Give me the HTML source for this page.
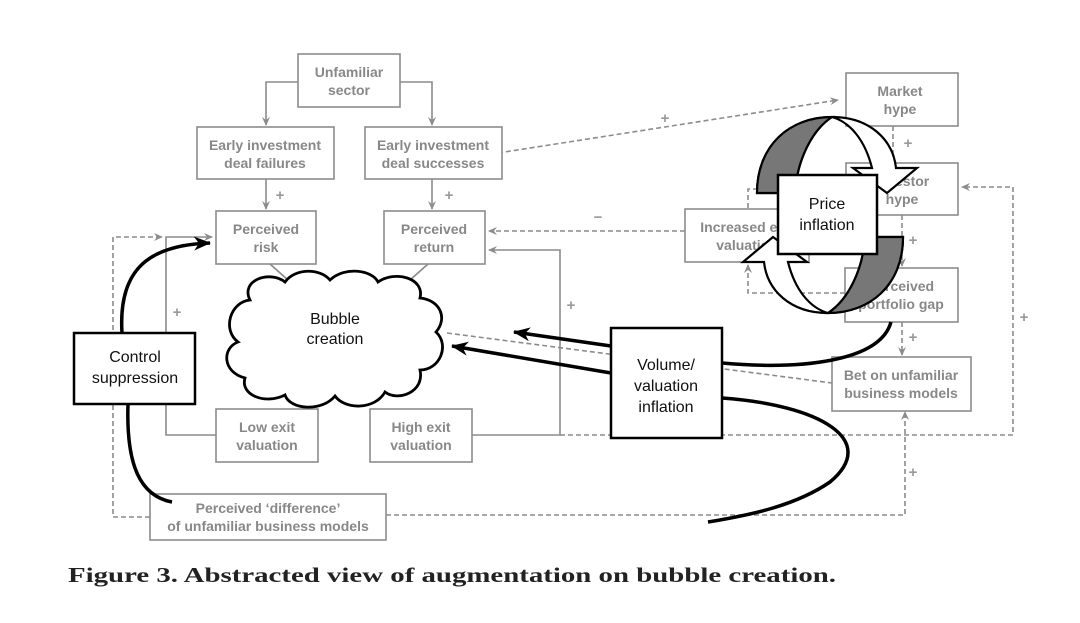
<!DOCTYPE html>
<html><head><meta charset="utf-8"><style>
html,body{margin:0;padding:0;background:#fff;}
svg{display:block;}
.g{fill:#fff;stroke:#8c8c8c;stroke-width:1.6;}
.gt{font-family:"Liberation Sans",sans-serif;font-weight:bold;font-size:14px;fill:#888;text-anchor:middle;}
.bt{font-family:"Liberation Sans",sans-serif;font-size:16px;fill:#111;text-anchor:middle;}
.ln{fill:none;stroke:#8c8c8c;stroke-width:1.6;}
.ds{fill:none;stroke:#8c8c8c;stroke-width:1.6;stroke-dasharray:5,3;}
.bk{fill:none;stroke:#000;stroke-width:3.5;}
.pl{font-family:"Liberation Sans",sans-serif;font-size:15px;font-weight:bold;fill:#999;text-anchor:middle;}
</style></head><body>
<svg width="1080" height="623" viewBox="0 0 1080 623" xmlns="http://www.w3.org/2000/svg">
<defs>
<marker id="ga" markerWidth="10" markerHeight="10" refX="8" refY="5" orient="auto" markerUnits="userSpaceOnUse"><path d="M0,1 L9,5 L0,9 L3,5 Z" fill="#8c8c8c"/></marker>
<marker id="ba" markerWidth="20" markerHeight="20" refX="16" refY="8" orient="auto" markerUnits="userSpaceOnUse"><path d="M0,1 L17,8 L0,15 L5,8 Z" fill="#000"/></marker>
</defs>
<rect width="1080" height="623" fill="#fff"/>

<path class="ln" d="M298,82 H266 V125" marker-end="url(#ga)"/>
<path class="ln" d="M400,82 H432 V125" marker-end="url(#ga)"/>
<path class="ln" d="M266,179 V209" marker-end="url(#ga)"/>
<path class="ln" d="M432,179 V209" marker-end="url(#ga)"/>
<path class="ds" d="M498,153 L838,100" marker-end="url(#ga)"/>
<path class="ln" d="M270,264 L288,280"/>
<path class="ln" d="M428,264 L410,280"/>
<path class="ln" d="M216,435 H166 V237 H212" marker-end="url(#ga)"/>
<path class="ds" d="M150,517 H113 V237 H162" marker-end="url(#ga)"/>
<path class="ln" d="M472,435 H560 V250 H489" marker-end="url(#ga)"/>
<path class="ds" d="M560,435 H1013 V187 H962" marker-end="url(#ga)"/>
<path class="ds" d="M685,231 H489" marker-end="url(#ga)"/>
<path class="ds" d="M386,515 H905 V412" marker-end="url(#ga)"/>
<path class="ds" d="M447,333 L832,383"/>
<path class="ds" d="M893,126 V163"/>
<path class="ds" d="M902,215 V266" marker-end="url(#ga)"/>
<path class="ds" d="M902,322 V355" marker-end="url(#ga)"/>
<path class="ds" d="M845,293 H748 V265" marker-end="url(#ga)"/>
<path class="ds" d="M748,208 V189 H846"/>

<text class="pl" x="280" y="200">+</text>
<text class="pl" x="449" y="200">+</text>
<text class="pl" x="665" y="123">+</text>
<text class="pl" x="177" y="317">+</text>
<text class="pl" x="571" y="310">+</text>
<text class="pl" x="598" y="222">−</text>
<text class="pl" x="1024" y="322">+</text>
<text class="pl" x="913" y="477">+</text>
<text class="pl" x="908" y="148">+</text>
<text class="pl" x="913" y="245">+</text>
<text class="pl" x="913" y="342">+</text>

<rect class="g" x="298" y="54" width="102" height="53"/>
<text class="gt" x="349" y="77">Unfamiliar</text><text class="gt" x="349" y="95">sector</text>
<rect class="g" x="197" y="127" width="137" height="52"/>
<text class="gt" x="265" y="150">Early investment</text><text class="gt" x="265" y="168">deal failures</text>
<rect class="g" x="365" y="127" width="137" height="52"/>
<text class="gt" x="433" y="150">Early investment</text><text class="gt" x="433" y="168">deal successes</text>
<rect class="g" x="216" y="211" width="100" height="53"/>
<text class="gt" x="266" y="234">Perceived</text><text class="gt" x="266" y="252">risk</text>
<rect class="g" x="384" y="211" width="101" height="53"/>
<text class="gt" x="434" y="234">Perceived</text><text class="gt" x="434" y="252">return</text>
<rect class="g" x="216" y="409" width="102" height="53"/>
<text class="gt" x="267" y="432">Low exit</text><text class="gt" x="267" y="450">valuation</text>
<rect class="g" x="370" y="409" width="102" height="53"/>
<text class="gt" x="421" y="432">High exit</text><text class="gt" x="421" y="450">valuation</text>
<rect class="g" x="150" y="494" width="236" height="46"/>
<text class="gt" x="268" y="513">Perceived ‘difference’</text><text class="gt" x="268" y="531">of unfamiliar business models</text>
<rect class="g" x="846" y="73" width="112" height="53"/>
<text class="gt" x="900" y="96">Market</text><text class="gt" x="900" y="114">hype</text>
<rect class="g" x="846" y="163" width="112" height="52"/>
<text class="gt" x="902" y="186">Investor</text><text class="gt" x="902" y="204">hype</text>
<rect class="g" x="685" y="209" width="124" height="53"/>
<text class="gt" x="747" y="232">Increased exit</text><text class="gt" x="747" y="250">valuation</text>
<rect class="g" x="845" y="268" width="113" height="54"/>
<text class="gt" x="901" y="291">Perceived</text><text class="gt" x="901" y="309">portfolio gap</text>
<rect class="g" x="832" y="357" width="139" height="54"/>
<text class="gt" x="901" y="380">Bet on unfamiliar</text><text class="gt" x="901" y="398">business models</text>

<path fill="#fff" stroke="#000" stroke-width="2.8" d="M250,300 C240,280 270,270 285,282 C295,268 320,268 330,280 C345,266 372,270 378,282 C395,270 425,278 420,298 C440,300 448,318 436,332 C450,345 440,370 420,370 C425,392 398,402 385,392 C375,410 345,410 335,396 C322,412 290,410 285,395 C265,405 240,395 245,378 C222,372 222,348 238,342 C222,330 230,302 250,300 Z"/>
<text class="bt" x="335" y="324">Bubble</text><text class="bt" x="335" y="344">creation</text>

<path class="bk" d="M122,333 C118,268 150,245 210,243" marker-end="url(#ba)"/>
<path class="bk" d="M128,404 C126,465 140,496 172,502"/>
<path class="bk" d="M611,346 L514,332" marker-end="url(#ba)"/>
<path class="bk" d="M611,373 L452,346" marker-end="url(#ba)"/>
<path class="bk" d="M891,322 C880,362 800,370 722,363"/>
<path class="bk" d="M722,398 C820,405 880,440 830,482 C795,506 750,515 708,522"/>

<rect x="74" y="333" width="121" height="71" fill="#fff" stroke="#000" stroke-width="2.5"/>
<text class="bt" x="135" y="362">Control</text><text class="bt" x="135" y="383">suppression</text>
<rect x="611" y="328" width="111" height="110" fill="#fff" stroke="#000" stroke-width="2.5"/>
<text class="bt" x="666" y="370">Volume/</text><text class="bt" x="666" y="391">valuation</text><text class="bt" x="666" y="412">inflation</text>

<g id="ca" stroke="#000" stroke-width="2.2" stroke-linejoin="miter">
<path fill="#fff" d="M757,193 C757,145 790,117 832,117 C870,117 893,140 896,168 L917,168 L887,193 L853,168 L872,168 C865,140 850,122 832,117 C812,130 797,160 795,193 Z"/>
<path fill="#777" d="M757,193 C757,145 790,117 832,117 C812,130 797,160 795,193 Z"/>
</g>
<use href="#ca" transform="rotate(180 830 215)"/>
<rect x="778" y="175" width="99" height="79" fill="#fff" stroke="#000" stroke-width="2.5"/>
<text class="bt" x="827" y="209">Price</text><text class="bt" x="827" y="230">inflation</text>

<text x="68" y="582" font-family="'Liberation Serif',serif" font-weight="bold" font-size="21" fill="#222" textLength="768" lengthAdjust="spacingAndGlyphs">Figure 3. Abstracted view of augmentation on bubble creation.</text>
</svg>
</body></html>
